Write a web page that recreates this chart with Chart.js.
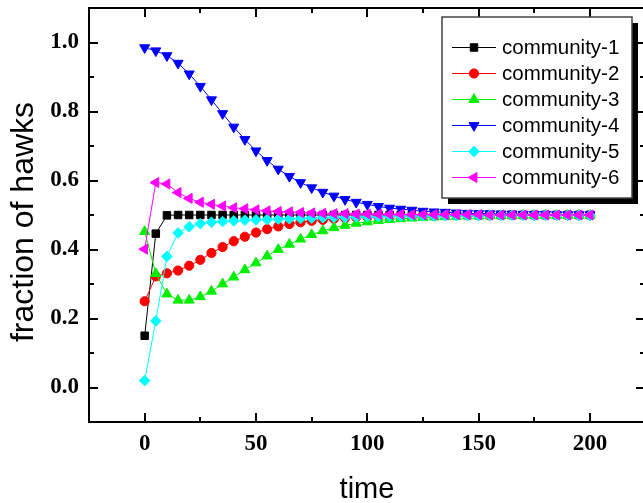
<!DOCTYPE html>
<html>
<head>
<meta charset="utf-8">
<script src="https://cdn.jsdelivr.net/npm/chart.js@4/dist/chart.umd.min.js"></script>
<style>
  html, body { margin: 0; padding: 0; background: #fff; }
  #hawkChart { display: block; }
</style>
</head>
<body>
<canvas id="hawkChart" width="643" height="503"></canvas>
<script>
// time steps 0..200, one sample every 5
const timeSteps = [0,5,10,15,20,25,30,35,40,45,50,55,60,65,70,75,80,85,90,95,100,
  105,110,115,120,125,130,135,140,145,150,155,160,165,170,175,180,185,190,195,200];

const community1 = [0.150,0.446,0.499,0.500,0.500,0.500,0.500,0.500,0.500,0.500,0.500,
  0.500,0.500,0.500,0.500,0.500,0.500,0.500,0.500,0.500,0.500,0.500,0.500,0.500,0.500,
  0.500,0.500,0.500,0.500,0.500,0.500,0.500,0.500,0.500,0.500,0.500,0.500,0.500,0.500,0.500,0.500];
const community2 = [0.250,0.322,0.331,0.339,0.353,0.370,0.390,0.407,0.424,0.437,0.449,
  0.459,0.467,0.474,0.479,0.483,0.486,0.489,0.491,0.493,0.494,0.495,0.496,0.497,0.497,
  0.498,0.498,0.499,0.499,0.499,0.499,0.499,0.500,0.500,0.500,0.500,0.500,0.500,0.500,0.500,0.500];
const community3 = [0.452,0.330,0.271,0.253,0.253,0.263,0.279,0.300,0.320,0.341,0.361,
  0.381,0.400,0.415,0.430,0.443,0.454,0.463,0.470,0.476,0.480,0.484,0.487,0.489,0.491,
  0.493,0.494,0.495,0.496,0.497,0.497,0.498,0.498,0.498,0.499,0.499,0.499,0.499,0.499,0.499,0.499];
const community4 = [0.985,0.976,0.962,0.940,0.909,0.873,0.834,0.794,0.755,0.719,0.686,
  0.658,0.633,0.612,0.594,0.579,0.566,0.555,0.545,0.537,0.531,0.525,0.520,0.517,0.514,
  0.511,0.509,0.508,0.506,0.505,0.504,0.504,0.503,0.503,0.502,0.502,0.502,0.501,0.501,0.501,0.501];
const community5 = [0.020,0.193,0.380,0.448,0.466,0.475,0.479,0.481,0.483,0.485,0.486,
  0.487,0.488,0.489,0.490,0.491,0.492,0.493,0.493,0.494,0.495,0.495,0.496,0.496,0.497,
  0.497,0.497,0.498,0.498,0.498,0.498,0.499,0.499,0.499,0.499,0.499,0.499,0.499,0.499,0.499,0.499];
const community6 = [0.401,0.594,0.590,0.565,0.548,0.537,0.531,0.526,0.521,0.518,0.515,
  0.512,0.510,0.509,0.507,0.506,0.505,0.504,0.504,0.503,0.503,0.502,0.502,0.502,0.501,
  0.501,0.501,0.501,0.501,0.501,0.501,0.500,0.500,0.500,0.500,0.500,0.500,0.500,0.500,0.500,0.500];

const seriesNames = ['community-1','community-2','community-3','community-4','community-5','community-6'];
const seriesValues = [community1, community2, community3, community4, community5, community6];

const xTickValues = [0, 50, 100, 150, 200];
const xMinorValues = [25, 75, 125, 175];
const yTickValues = [0, 0.2, 0.4, 0.6, 0.8, 1.0];
const yMinorValues = [0.1, 0.3, 0.5, 0.7, 0.9];

const xTitle = 'time';
const yTitle = 'fraction of hawks';

// marker look per series
const styles = [
  { color: '#000000', point: 'rect',     radius: 5.3, rotation: 0 },
  { color: '#ff0000', point: 'circle',   radius: 4.6, rotation: 0 },
  { color: '#00ee00', point: 'triangle', radius: 5.8, rotation: 0 },
  { color: '#0000ff', point: 'triangle', radius: 5.8, rotation: 180 },
  { color: '#00ffff', point: 'rectRot',  radius: 5.3, rotation: 0 },
  { color: '#ff00ff', point: 'triangle', radius: 5.8, rotation: 270 }
];

const datasets = seriesNames.map((name, i) => ({
  label: name,
  data: timeSteps.map((t, j) => ({ x: t, y: seriesValues[i][j] })),
  borderColor: styles[i].color,
  backgroundColor: styles[i].color,
  borderWidth: 1,
  pointStyle: styles[i].point,
  pointRadius: styles[i].radius,
  pointRotation: styles[i].rotation,
  pointBorderWidth: 1,
  pointBorderColor: styles[i].color,
  pointBackgroundColor: styles[i].color,
  tension: 0,
  order: seriesNames.length - i   // later series painted on top
}));

function drawMarker(ctx, st, x, y) {
  ctx.save();
  ctx.fillStyle = st.color;
  ctx.strokeStyle = st.color;
  ctx.lineWidth = 1;
  if (Chart.helpers && Chart.helpers.drawPoint) {
    Chart.helpers.drawPoint(ctx, { pointStyle: st.point, radius: st.radius, rotation: st.rotation, borderWidth: 1 }, x, y);
  } else {
    ctx.beginPath();
    ctx.arc(x, y, st.radius, 0, Math.PI * 2);
    ctx.fill();
  }
  ctx.restore();
}

const frameAndLegend = {
  id: 'frameAndLegend',
  afterDraw(chart) {
    const ctx = chart.ctx;
    const a = chart.chartArea;
    const xs = chart.scales.x, ys = chart.scales.y;
    // the right axis of the original sits just past the canvas edge
    const rightEdge = a.right + 2;

    ctx.save();
    ctx.strokeStyle = '#000';
    ctx.lineWidth = 2;
    ctx.beginPath();
    ctx.rect(a.left, a.top, rightEdge - a.left, a.bottom - a.top);
    ctx.stroke();

    // inward ticks on all four sides
    ctx.beginPath();
    const xTick = (v, len) => {
      const px = Math.round(xs.getPixelForValue(v));
      ctx.moveTo(px, a.bottom); ctx.lineTo(px, a.bottom - len);
      ctx.moveTo(px, a.top); ctx.lineTo(px, a.top + len);
    };
    const yTick = (v, len) => {
      const py = Math.round(ys.getPixelForValue(v));
      ctx.moveTo(a.left, py); ctx.lineTo(a.left + len, py);
      ctx.moveTo(rightEdge, py); ctx.lineTo(rightEdge - len, py);
    };
    xTickValues.forEach(v => xTick(v, 9));
    xMinorValues.forEach(v => xTick(v, 5));
    yTickValues.forEach(v => yTick(v, 9));
    yMinorValues.forEach(v => yTick(v, 5));
    ctx.stroke();

    // axis titles
    ctx.fillStyle = '#000';
    ctx.font = '29px "Liberation Sans", Arial, sans-serif';
    ctx.textAlign = 'center';
    ctx.textBaseline = 'alphabetic';
    ctx.fillText(xTitle, (a.left + rightEdge) / 2, 498);
    ctx.save();
    ctx.translate(33, 222);
    ctx.rotate(-Math.PI / 2);
    ctx.font = '32px "Liberation Sans", Arial, sans-serif';
    ctx.fillText(yTitle, 0, 0);
    ctx.restore();

    // legend box with drop shadow
    const bx = 442, by = 17, bw = 190, bh = 181;
    ctx.fillStyle = '#000';
    ctx.fillRect(bx + 6, by + 6, bw, bh);
    ctx.fillStyle = '#fff';
    ctx.fillRect(bx, by, bw, bh);
    ctx.strokeStyle = '#444';
    ctx.lineWidth = 1.5;
    ctx.strokeRect(bx, by, bw, bh);

    ctx.font = '20.5px "Liberation Sans", Arial, sans-serif';
    ctx.textAlign = 'left';
    ctx.textBaseline = 'middle';
    seriesNames.forEach((name, i) => {
      const ry = 47 + i * 26;
      ctx.strokeStyle = styles[i].color;
      ctx.lineWidth = 1;
      ctx.beginPath();
      ctx.moveTo(452, ry + 0.5); ctx.lineTo(496, ry + 0.5);
      ctx.stroke();
      drawMarker(ctx, styles[i], 474, ry + 0.5);
      ctx.fillStyle = '#000';
      ctx.fillText(name, 502, ry + 1);
    });
    ctx.restore();
  }
};

new Chart(document.getElementById('hawkChart').getContext('2d'), {
  type: 'line',
  data: { datasets },
  options: {
    responsive: false,
    animation: false,
    layout: { autoPadding: false, padding: { left: 0, top: 8, right: 0, bottom: 0 } },
    plugins: { legend: { display: false }, tooltip: { enabled: false } },
    scales: {
      x: {
        type: 'linear',
        min: -25, max: 223.8,
        grid: { display: false, drawTicks: false },
        border: { display: false },
        afterFit: s => { s.height = 81; s.paddingLeft = 0; s.paddingRight = 0; },
        afterBuildTicks: s => { s.ticks = xTickValues.map(v => ({ value: v })); },
        ticks: {
          color: '#000',
          padding: 8,
          maxRotation: 0,
          font: { family: '"Liberation Serif", "Times New Roman", serif', size: 23, weight: 'bold' }
        }
      },
      y: {
        type: 'linear',
        min: -0.1, max: 1.1,
        grid: { display: false, drawTicks: false },
        border: { display: false },
        afterFit: s => { s.width = 89; s.paddingTop = 0; s.paddingBottom = 0; },
        afterBuildTicks: s => { s.ticks = yTickValues.map(v => ({ value: v })); },
        ticks: {
          color: '#000',
          padding: 10,
          callback: v => v.toFixed(1),
          font: { family: '"Liberation Serif", "Times New Roman", serif', size: 23, weight: 'bold' }
        }
      }
    }
  },
  plugins: [frameAndLegend]
});
</script>
</body>
</html>
